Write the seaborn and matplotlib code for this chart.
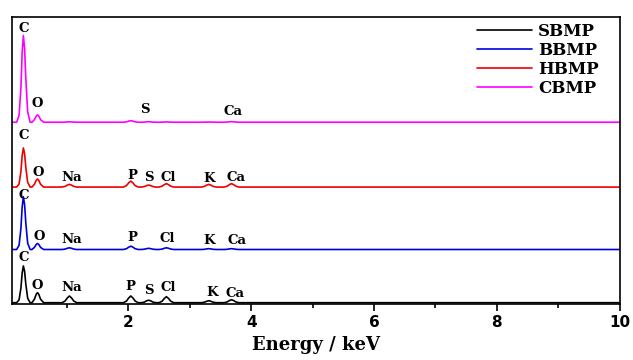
import numpy as np
import pandas as pd
import seaborn as sns
import matplotlib.pyplot as plt
from matplotlib.ticker import MultipleLocator

# energy grid (keV)
energy = [0.10, 0.18, 0.22, 0.25, 0.27, 0.29, 0.31, 0.33, 0.36, 0.40,
          0.43, 0.47, 0.50, 0.52, 0.54, 0.57, 0.62,
          0.92, 0.97, 1.005, 1.04, 1.075, 1.11, 1.16,
          1.92, 1.97, 2.005, 2.04, 2.075, 2.11, 2.16,
          2.21, 2.26, 2.295, 2.33, 2.365, 2.40, 2.45,
          2.50, 2.55, 2.585, 2.62, 2.655, 2.69, 2.74,
          3.19, 3.24, 3.275, 3.31, 3.345, 3.38, 3.43,
          3.56, 3.61, 3.645, 3.68, 3.715, 3.75, 3.80,
          10.0]

# intensities (a.u.), one list per sample
sbmp = [0, 0, 2.9, 14.7, 29.4, 36.7, 31.2, 18.4, 4.4, 0,
        0, 3.5, 8.5, 10.0, 8.5, 3.5, 0,
        0, 1.7, 4.7, 6.7, 4.7, 1.7, 0,
        0, 1.7, 4.7, 6.7, 4.7, 1.7, 0,
        0, 0.6, 1.8, 2.5, 1.8, 0.6, 0,
        0, 1.5, 4.2, 6.0, 4.2, 1.5, 0,
        0, 0.5, 1.4, 2.0, 1.4, 0.5, 0,
        0, 0.8, 2.1, 3.0, 2.1, 0.8, 0,
        0]
bbmp = [0, 0, 4.2, 21.0, 42.1, 52.6, 44.7, 26.3, 6.3, 0,
        0, 2.1, 5.1, 6.0, 5.1, 2.1, 0,
        0, 0.4, 1.2, 1.7, 1.2, 0.4, 0,
        0, 0.8, 2.3, 3.3, 2.3, 0.8, 0,
        0, 0.3, 0.8, 1.2, 0.8, 0.3, 0,
        0, 0.4, 1.2, 1.7, 1.2, 0.4, 0,
        0, 0.2, 0.6, 0.8, 0.6, 0.2, 0,
        0, 0.2, 0.6, 0.8, 0.6, 0.2, 0,
        0]
hbmp = [0, 0, 3.1, 15.6, 31.2, 39.0, 33.2, 19.5, 4.7, 0,
        0, 2.8, 6.8, 8.0, 6.8, 2.8, 0,
        0, 0.7, 1.9, 2.7, 1.9, 0.7, 0,
        0, 1.5, 4.2, 6.0, 4.2, 1.5, 0,
        0, 0.5, 1.4, 2.0, 1.4, 0.5, 0,
        0, 0.9, 2.4, 3.4, 2.4, 0.9, 0,
        0, 0.7, 1.9, 2.7, 1.9, 0.7, 0,
        0, 0.9, 2.4, 3.4, 2.4, 0.9, 0,
        0]
cbmp = [0, 0, 6.9, 34.6, 69.3, 86.6, 73.6, 43.3, 10.4, 0,
        0, 2.6, 6.2, 7.3, 6.2, 2.6, 0,
        0, 0.1, 0.3, 0.4, 0.3, 0.1, 0,
        0, 0.4, 1.1, 1.5, 1.1, 0.4, 0,
        0, 0.1, 0.4, 0.5, 0.4, 0.1, 0,
        0, 0.1, 0.2, 0.3, 0.2, 0.1, 0,
        0, 0.1, 0.1, 0.2, 0.1, 0.1, 0,
        0, 0.2, 0.4, 0.6, 0.4, 0.2, 0,
        0]

samples = ["SBMP", "BBMP", "HBMP", "CBMP"]
spectra = [sbmp, bbmp, hbmp, cbmp]
offsets = [1.6, 54.7, 117.0, 181.7]
colors = ["#000000", "#0000DD", "#EE0000", "#FF00FF"]

# peak labels: element, energy of label (keV), label height per sample
sbmp_labels = [("C", 0.29, 47), ("O", 0.51, 19), ("Na", 1.07, 17), ("P", 2.04, 18),
               ("S", 2.34, 14), ("Cl", 2.65, 17), ("K", 3.37, 12), ("Ca", 3.74, 11)]
bbmp_labels = [("C", 0.29, 109), ("O", 0.55, 68), ("Na", 1.07, 65), ("P", 2.07, 67),
               ("Cl", 2.64, 66), ("K", 3.31, 64), ("Ca", 3.77, 64)]
hbmp_labels = [("C", 0.29, 168), ("O", 0.535, 132), ("Na", 1.08, 127), ("P", 2.07, 129),
               ("S", 2.34, 127), ("Cl", 2.65, 127), ("K", 3.31, 126), ("Ca", 3.76, 127)]
cbmp_labels = [("C", 0.29, 275), ("O", 0.52, 200), ("S", 2.27, 194), ("Ca", 3.70, 192)]
all_labels = [sbmp_labels, bbmp_labels, hbmp_labels, cbmp_labels]

rows = []
for name, vals, off in zip(samples, spectra, offsets):
    for e, v in zip(energy, vals):
        rows.append({"Energy": e, "Intensity": v + off, "Sample": name})
df = pd.DataFrame(rows)

sns.set_style("ticks")
plt.rcParams["font.family"] = ["DejaVu Serif"]
plt.rcParams["text.color"] = "black"
plt.rcParams["axes.labelcolor"] = "black"
plt.rcParams["xtick.color"] = "black"

fig = plt.figure(figsize=(6.33, 3.6), dpi=100)
ax = fig.add_axes([0.0185, 0.1547, 0.9602, 0.7989])

sns.lineplot(data=df, x="Energy", y="Intensity", hue="Sample", hue_order=samples,
             palette=colors, estimator=None, sort=False, linewidth=1.2, ax=ax)

for labels in all_labels:
    for el, x, y in labels:
        ax.text(x, y, el, ha="center", va="center", fontsize=9.5,
                fontweight="bold", family="DejaVu Serif", color="black")

ax.set_xlim(0.1, 10)
ax.set_ylim(0, 287)
ax.set_yticks([])
ax.set_ylabel("")
ax.xaxis.set_major_locator(MultipleLocator(2))
ax.xaxis.set_minor_locator(MultipleLocator(1))
ax.tick_params(axis="x", which="major", length=5, width=1.2, direction="out",
               labelsize=11, pad=3)
ax.tick_params(axis="x", which="minor", length=3, width=1.2, direction="out")
for lab in ax.get_xticklabels():
    lab.set_fontweight("bold")
    lab.set_family("DejaVu Sans")
for sp in ax.spines.values():
    sp.set_linewidth(1.2)
    sp.set_color("black")

ax.set_xlabel("Energy / keV", fontsize=13, fontweight="bold", family="DejaVu Serif",
              labelpad=4)

leg = ax.legend(loc="upper right", frameon=False, handlelength=3.3,
                handletextpad=0.35, labelspacing=0.12, borderaxespad=0.4,
                borderpad=0.3, bbox_to_anchor=(0.985, 1.018),
                prop={"family": "DejaVu Serif", "weight": "bold", "size": 12})
for line in leg.get_lines():
    line.set_linewidth(1.2)

fig.savefig("out.png", dpi=100)
